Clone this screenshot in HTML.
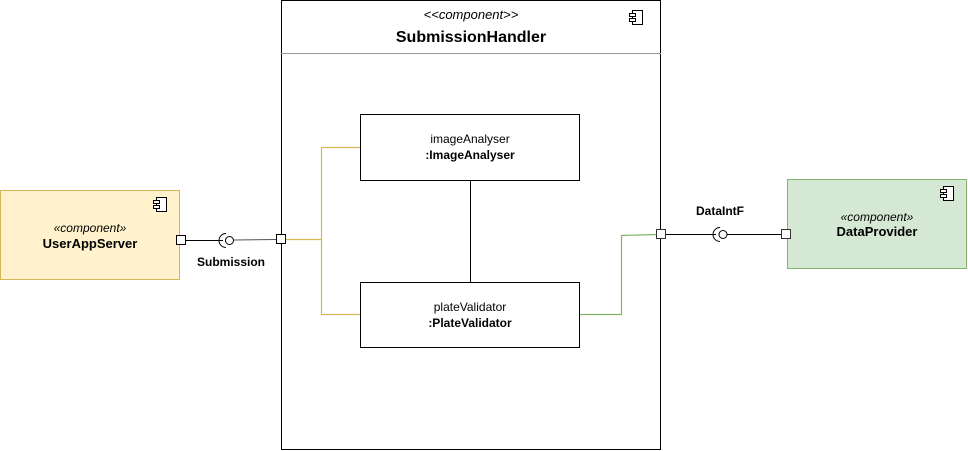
<!DOCTYPE html>
<html><head><style>body{margin:0;background:#fff}svg{display:block}text{font-family:"Liberation Sans",Arial,sans-serif}</style></head><body>
<svg width="968" height="451" viewBox="0 0 968 451" xmlns="http://www.w3.org/2000/svg">
<defs>
<g id="ic"><rect x="3" y="0" width="10" height="14" fill="#fff" stroke="#000"/><rect x="0" y="3" width="6" height="3" fill="#fff" stroke="#000"/><rect x="0" y="8" width="6" height="3" fill="#fff" stroke="#000"/></g>
</defs>
<rect x="281.5" y="0.5" width="379" height="449" fill="#fff" stroke="#000"/>
<line x1="281" y1="53.5" x2="661" y2="53.5" stroke="#999"/>
<text x="471" y="19" font-size="13" font-style="italic" text-anchor="middle">&lt;&lt;component&gt;&gt;</text>
<text x="471" y="42" font-size="16" font-weight="bold" text-anchor="middle">SubmissionHandler</text>
<use href="#ic" x="629.5" y="10.5"/>
<rect x="360.5" y="114.5" width="219" height="66" fill="#fff" stroke="#000"/>
<text x="470" y="143" font-size="12" text-anchor="middle">imageAnalyser</text>
<text x="470" y="159" font-size="12" font-weight="bold" text-anchor="middle">:ImageAnalyser</text>
<rect x="360.5" y="282.5" width="219" height="65" fill="#fff" stroke="#000"/>
<text x="470" y="311" font-size="12" text-anchor="middle">plateValidator</text>
<text x="470" y="327" font-size="12" font-weight="bold" text-anchor="middle">:PlateValidator</text>
<line x1="470.5" y1="181" x2="470.5" y2="282" stroke="#000"/>
<polyline points="285,239.5 321.5,239.5" fill="none" stroke="#d6b656" stroke-width="1.2"/>
<polyline points="360,147.5 321.5,147.5 321.5,314.5 360,314.5" fill="none" stroke="#d6b656" stroke-width="1.2"/>
<polyline points="580,314.5 621.5,314.5 621.5,235.5 656,234.5" fill="none" stroke="#82b366" stroke-width="1.2"/>
<rect x="0.5" y="190.5" width="179" height="89" fill="#fff2cc" stroke="#d6b656"/>
<use href="#ic" x="153.5" y="197.5"/>
<text x="90" y="232" font-size="12" font-style="italic" text-anchor="middle">«component»</text>
<text x="90" y="248" font-size="13" font-weight="bold" text-anchor="middle">UserAppServer</text>
<line x1="185" y1="240.5" x2="223" y2="240.5" stroke="#000"/>
<circle cx="229.5" cy="240.5" r="4" fill="#fff" stroke="#000"/>
<path d="M226 233.5 A7 7 0 0 0 226 247.5" fill="none" stroke="#000"/>
<line x1="234" y1="240" x2="276" y2="239.5" stroke="#555"/>
<rect x="176.5" y="235.5" width="9" height="9" fill="#fff" stroke="#000"/>
<rect x="276.5" y="234.5" width="9" height="9" fill="#fff" stroke="#000"/>
<text x="231" y="266" font-size="12" font-weight="bold" text-anchor="middle">Submission</text>
<rect x="787.5" y="179.5" width="179" height="89" fill="#d5e8d4" stroke="#82b366"/>
<use href="#ic" x="940.5" y="186.5"/>
<text x="877" y="221" font-size="12" font-style="italic" text-anchor="middle">«component»</text>
<text x="877" y="236" font-size="13" font-weight="bold" text-anchor="middle">DataProvider</text>
<line x1="666" y1="234.5" x2="716" y2="234.5" stroke="#000"/>
<circle cx="723" cy="234.5" r="4" fill="#fff" stroke="#000"/>
<path d="M720 227.5 A7 7 0 0 0 720 241.5" fill="none" stroke="#000"/>
<line x1="727" y1="234.5" x2="782" y2="234.5" stroke="#000"/>
<rect x="656.5" y="229.5" width="9" height="9" fill="#fff" stroke="#333"/>
<rect x="781.5" y="229.5" width="9" height="9" fill="#fff" stroke="#333"/>
<text x="720" y="215" font-size="12" font-weight="bold" text-anchor="middle">DataIntF</text>
</svg>
</body></html>
